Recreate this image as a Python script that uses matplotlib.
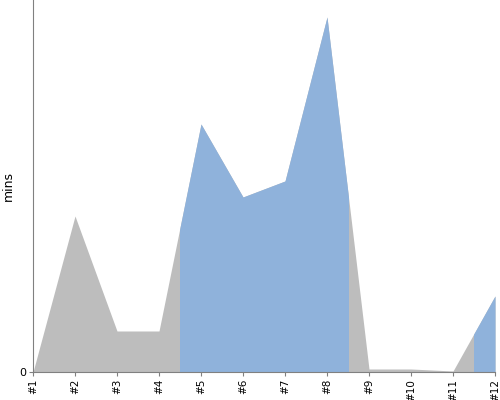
import numpy as np
import matplotlib.pyplot as plt
from matplotlib.patches import Rectangle

labels = ['#1', '#2', '#3', '#4', '#5', '#6', '#7', '#8', '#9', '#10', '#11', '#12']
mins = [0, 156, 41, 41, 248, 175, 191, 355, 3, 3, 1, 76]
highlight = [(4.5, 8.5), (11.5, 12)]

x = np.arange(1, len(mins) + 1)
y_top = 372

fig = plt.figure(figsize=(5, 4), dpi=100)
ax = fig.add_axes([0.066, 0.07, 0.924, 0.93])

ax.fill_between(x, mins, color='#bdbdbd', linewidth=0)
for a, b in highlight:
    band = ax.fill_between(x, mins, color='#8fb2db', linewidth=0)
    clip = Rectangle((a, 0), b - a, y_top, transform=ax.transData)
    band.set_clip_path(clip)

ax.set_xlim(1, 12)
ax.set_ylim(0, y_top)
ax.set_xticks(x)
ax.set_xticklabels(labels, rotation=90, fontsize=7.5)
ax.set_yticks([0])
ax.set_yticklabels(['0'], fontsize=8)
ax.tick_params(axis='both', length=3, color='#808080', pad=2)
ax.set_ylabel('mins', fontsize=9, labelpad=3)

for s in ['top', 'right']:
    ax.spines[s].set_visible(False)
for s in ['left', 'bottom']:
    ax.spines[s].set_color('#808080')

plt.savefig('out.png', dpi=100)
